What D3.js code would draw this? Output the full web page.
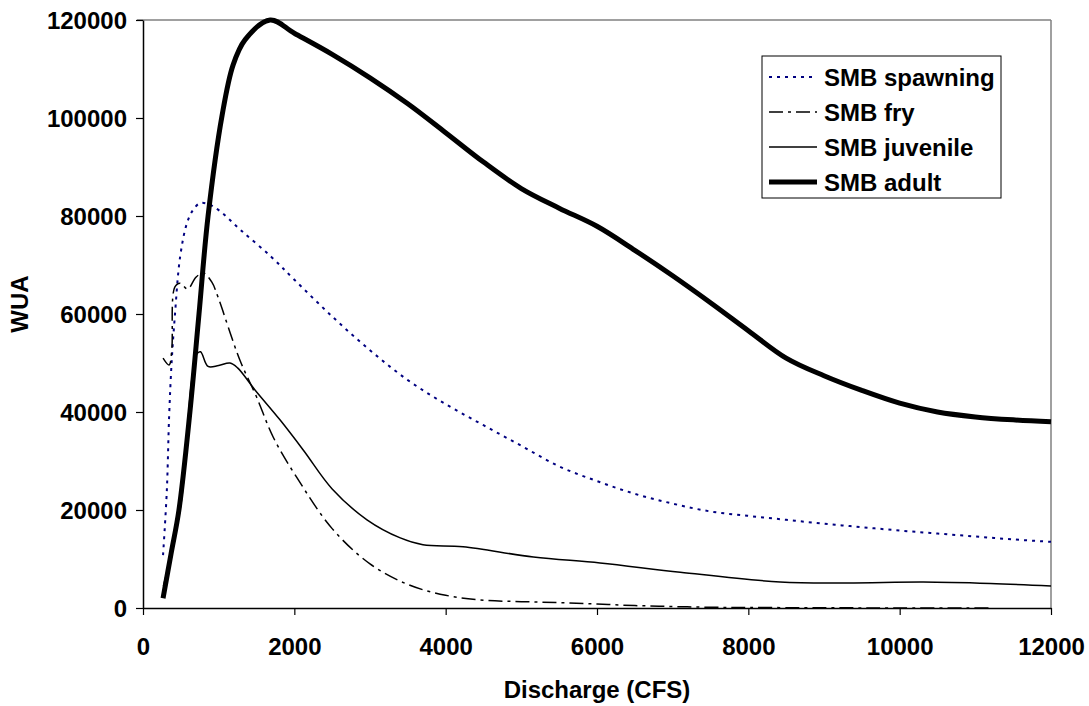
<!DOCTYPE html>
<html>
<head>
<meta charset="utf-8">
<script src="https://cdn.jsdelivr.net/npm/d3@7"></script>
<style>
  html, body { margin: 0; padding: 0; background: #fff; }
  svg text { font-family: "Liberation Sans", Arial, sans-serif; font-weight: bold; fill: #000; }
</style>
</head>
<body>
<svg id="chart" width="1089" height="706"></svg>
<script>
// ---- data (discharge in CFS, WUA) ----
const spawningX = [265, 315, 345, 380, 420, 490, 580, 660, 750, 850, 1000, 1300, 1700, 2000, 2500, 3000, 3500, 4000, 4500, 5000, 5500, 6000, 6500, 7000, 7500, 8000, 8500, 9000, 9500, 10000, 10500, 11000, 11500, 12000];
const spawningY = [10800, 24000, 39000, 50600, 59400, 71600, 78500, 81200, 82600, 82500, 81200, 77000, 71600, 67000, 59500, 52600, 46500, 41600, 37300, 33100, 28900, 25900, 23300, 21300, 19700, 18800, 18000, 17200, 16500, 15800, 15200, 14600, 14000, 13500];

const fryX = [265, 345, 380, 420, 490, 590, 700, 795, 910, 990, 1280, 1500, 1720, 2030, 2500, 3000, 3500, 4000, 4500, 5000, 5500, 6000, 6500, 7000, 7500, 8000, 9000, 10000, 11200];
const fryY = [51000, 49600, 52700, 65500, 66300, 65100, 67500, 68400, 66500, 63500, 50600, 43100, 34900, 26700, 16200, 9000, 4800, 2600, 1600, 1300, 1100, 800, 500, 300, 150, 100, 50, 0, 0];

const juvenileX = [270, 500, 640, 710, 760, 860, 1000, 1150, 1250, 1480, 1810, 2120, 2500, 2960, 3400, 3700, 4230, 5160, 6040, 7100, 8420, 9300, 10310, 11200, 12000];
const juvenileY = [4500, 21000, 46000, 51800, 52300, 49300, 49500, 50000, 49000, 44500, 38400, 32200, 24300, 18000, 14300, 12900, 12500, 10400, 9200, 7300, 5300, 5100, 5300, 5000, 4500];

const adultX = [265, 370, 475, 620, 740, 860, 1045, 1190, 1350, 1680, 2000, 2500, 3000, 3500, 4000, 4500, 5000, 5500, 6000, 6500, 7000, 7500, 8000, 8500, 9000, 9500, 10000, 10500, 11000, 11500, 12000];
const adultY = [2000, 11000, 20000, 40000, 60000, 80000, 100500, 110800, 116000, 120000, 117300, 113000, 108200, 102900, 97000, 91000, 85600, 81600, 77900, 73000, 67800, 62300, 56600, 51000, 47400, 44400, 41800, 40000, 39000, 38400, 38000];

const xTicks = [0, 2000, 4000, 6000, 8000, 10000, 12000];
const yTicks = [0, 20000, 40000, 60000, 80000, 100000, 120000];
const seriesNames = ["SMB spawning", "SMB fry", "SMB juvenile", "SMB adult"];

// ---- layout ----
const svg = d3.select("#chart");
const L = 143, R = 1051, T = 20, B = 608;
const x = d3.scaleLinear().domain([0, 12000]).range([L, R]);
const y = d3.scaleLinear().domain([0, 120000]).range([B, T]);
const FS = 24;

const styles = [
  { color: "#000080", width: 2, dash: "3,5" },
  { color: "#000", width: 1.5, dash: "14,5,3,5" },
  { color: "#000", width: 1.5, dash: null },
  { color: "#000", width: 5, dash: null }
];
const series = [
  d3.zip(spawningX, spawningY),
  d3.zip(fryX, fryY),
  d3.zip(juvenileX, juvenileY),
  d3.zip(adultX, adultY)
];

// plot area frame (top & right grey)
svg.append("line").attr("x1", L - 6).attr("x2", R).attr("y1", T).attr("y2", T)
  .attr("stroke", "#808080").attr("stroke-width", 1.5);
svg.append("line").attr("x1", R).attr("x2", R).attr("y1", T).attr("y2", B)
  .attr("stroke", "#808080").attr("stroke-width", 1.5);

// axes
const xAxis = svg.append("g").attr("transform", `translate(0,${B})`)
  .call(d3.axisBottom(x).tickValues(xTicks).tickSize(7).tickSizeOuter(0).tickFormat(d3.format("d")));
const yAxis = svg.append("g").attr("transform", `translate(${L},0)`)
  .call(d3.axisLeft(y).tickValues(yTicks).tickSize(7).tickSizeOuter(0).tickFormat(d3.format("d")));
[xAxis, yAxis].forEach(a => {
  a.select(".domain").attr("stroke", "#000").attr("stroke-width", 1.5);
  a.selectAll(".tick line").attr("stroke", "#000").attr("stroke-width", 1.2);
  a.selectAll(".tick text").attr("font-size", FS).attr("font-family", null);
});
xAxis.selectAll(".tick text").attr("dy", null).attr("y", 47);
yAxis.selectAll(".tick text").attr("x", -16).attr("dy", "0.36em");

// axis titles
svg.append("text").attr("x", 597).attr("y", 698).attr("text-anchor", "middle")
  .attr("font-size", FS).text("Discharge (CFS)");
svg.append("text").attr("transform", "translate(28,304) rotate(-90)").attr("text-anchor", "middle")
  .attr("font-size", FS).text("WUA");

// lines
const line = d3.line().x(d => x(d[0])).y(d => y(d[1])).curve(d3.curveCatmullRom.alpha(0.5));
const plot = svg.append("g");
series.forEach((s, i) => {
  plot.append("path").datum(s).attr("d", line).attr("fill", "none")
    .attr("stroke", styles[i].color).attr("stroke-width", styles[i].width)
    .attr("stroke-dasharray", styles[i].dash).attr("stroke-linejoin", "round");
});

// legend
const lg = svg.append("g");
lg.append("rect").attr("x", 762).attr("y", 56).attr("width", 239).attr("height", 142)
  .attr("fill", "#fff").attr("stroke", "#000").attr("stroke-width", 1);
seriesNames.forEach((n, i) => {
  const cy = 77 + i * 35;
  lg.append("line").attr("x1", 769).attr("x2", 817).attr("y1", cy).attr("y2", cy)
    .attr("stroke", styles[i].color).attr("stroke-width", styles[i].width)
    .attr("stroke-dasharray", styles[i].dash);
  lg.append("text").attr("x", 824).attr("y", cy).attr("dy", "0.36em")
    .attr("font-size", FS).text(n);
});
</script>
</body>
</html>
